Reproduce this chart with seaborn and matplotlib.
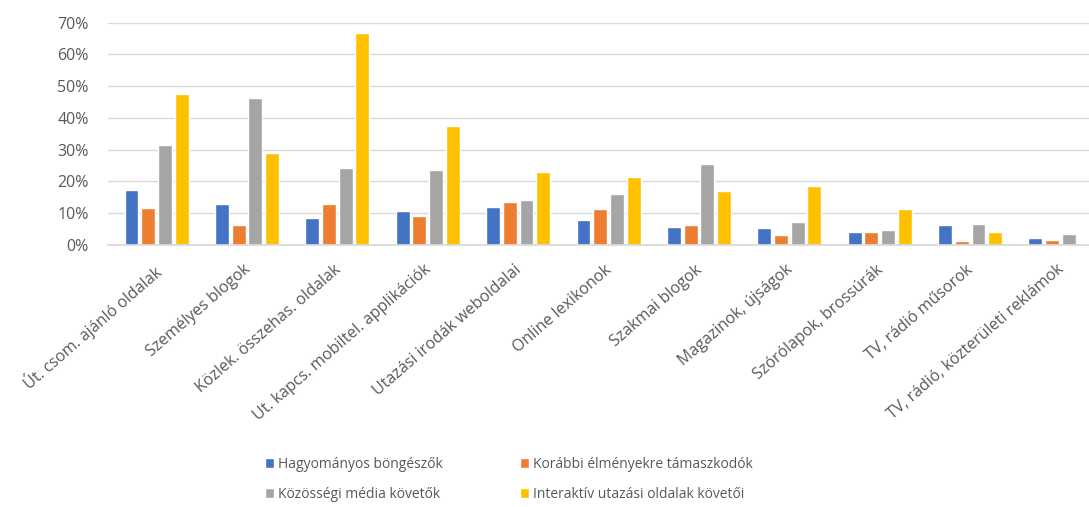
import matplotlib
matplotlib.use("Agg")
import matplotlib.pyplot as plt
import matplotlib.transforms as mtransforms
import seaborn as sns
import pandas as pd
from matplotlib.ticker import PercentFormatter, MultipleLocator

categories = [
    "Út. csom. ajánló oldalak",
    "Személyes blogok",
    "Közlek. összehas. oldalak",
    "Ut. kapcs. mobiltel. applikációk",
    "Utazási irodák weboldalai",
    "Online lexikonok",
    "Szakmai blogok",
    "Magazinok, újságok",
    "Szórólapok, brossúrák",
    "TV, rádió műsorok",
    "TV, rádió, közterületi reklámok",
]
series_names = [
    "Hagyományos böngészők",
    "Korábbi élményekre támaszkodók",
    "Közösségi média követők",
    "Interaktív utazási oldalak követői",
]
hagyomanyos = [0.173, 0.128, 0.084, 0.106, 0.119, 0.079, 0.058, 0.052, 0.040, 0.062, 0.021]
korabbi     = [0.118, 0.062, 0.129, 0.091, 0.135, 0.112, 0.062, 0.030, 0.040, 0.013, 0.015]
kozossegi   = [0.315, 0.462, 0.243, 0.236, 0.142, 0.161, 0.254, 0.072, 0.047, 0.065, 0.036]
interaktiv  = [0.475, 0.289, 0.668, 0.376, 0.231, 0.215, 0.170, 0.186, 0.113, 0.040, 0.0]
colors = ["#4472C4", "#ED7D31", "#A5A5A5", "#FFC000"]

rows = []
for name, vals in zip(series_names, [hagyomanyos, korabbi, kozossegi, interaktiv]):
    for c, v in zip(categories, vals):
        rows.append({"cat": c, "series": name, "value": v})
df = pd.DataFrame(rows)

sns.set_theme(style="white")
plt.rcParams["font.family"] = ["Open Sans", "DejaVu Sans"]
text_color = "#595959"

fig = plt.figure(figsize=(10.89, 5.07), dpi=100)
ax = fig.add_axes([108 / 1089, 1 - 245 / 507, (1089 - 108) / 1089, (245 - 22.7) / 507])

sns.barplot(data=df, x="cat", y="value", hue="series", order=categories,
            hue_order=series_names, palette=colors, width=0.74, gap=0.17,
            saturation=1, ax=ax, legend=True)

ax.set_ylim(0, 0.7)
ax.set_xlim(-0.537, 10.315)
ax.yaxis.set_major_locator(MultipleLocator(0.1))
ax.yaxis.set_major_formatter(PercentFormatter(1.0, decimals=0))
ax.grid(axis="y", color="#D9D9D9", linewidth=1)
ax.set_axisbelow(True)
for s in ["top", "right", "left"]:
    ax.spines[s].set_visible(False)
ax.spines["bottom"].set_color("#D9D9D9")
ax.set_xlabel("")
ax.set_ylabel("")
ax.tick_params(axis="y", length=0, labelsize=11.5, colors=text_color, pad=14)
ax.tick_params(axis="x", length=0, labelsize=11.5, colors=text_color, pad=12)
shift = mtransforms.ScaledTranslation(-4 / 100, 0, fig.dpi_scale_trans)
for lbl in ax.get_xticklabels():
    lbl.set_rotation(41)
    lbl.set_ha("right")
    lbl.set_rotation_mode("anchor")
    lbl.set_transform(lbl.get_transform() + shift)

handles, labels = ax.get_legend_handles_labels()
order = [0, 2, 1, 3]
ax.legend([handles[i] for i in order], [labels[i] for i in order], ncol=2, loc="upper left",
          bbox_to_anchor=(252 / 1089, 1 - 444 / 507),
          bbox_transform=fig.transFigure, frameon=False, fontsize=10,
          handlelength=0.7, handleheight=0.7, handletextpad=0.3, columnspacing=5.5,
          labelcolor=text_color, labelspacing=1.1)

fig.savefig("out.png", dpi=100)
